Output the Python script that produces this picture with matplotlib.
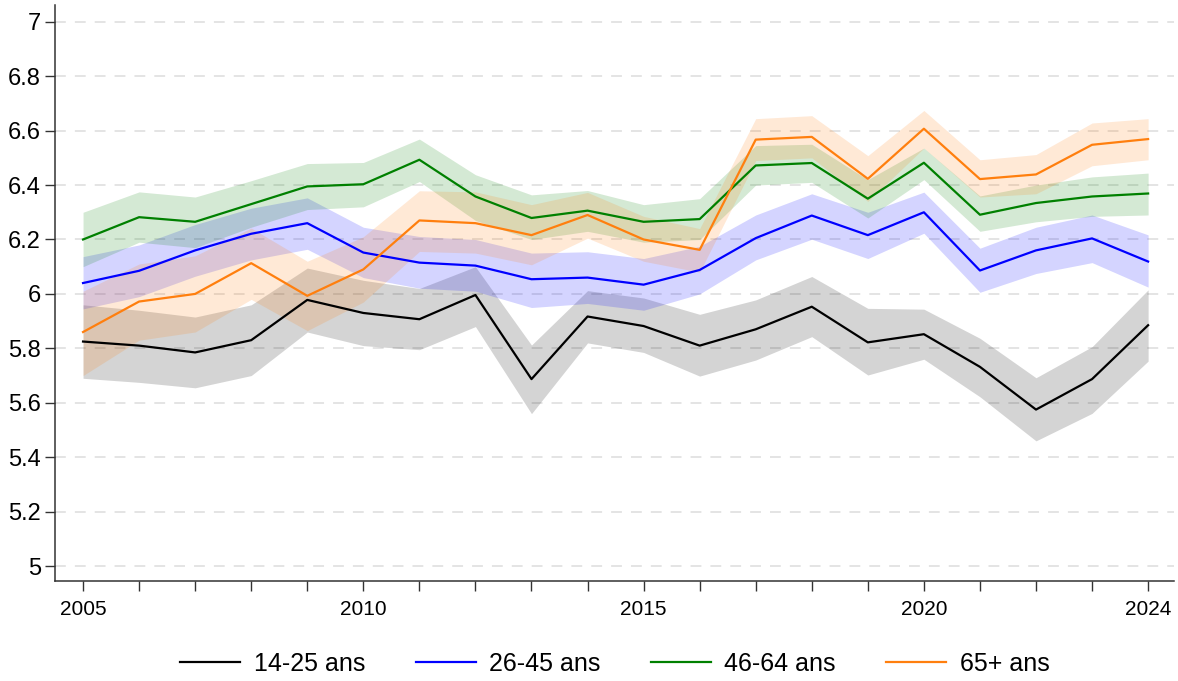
import numpy as np
import matplotlib
matplotlib.use("Agg")
import matplotlib.pyplot as plt

plt.rcParams.update({
    "font.family": ["Liberation Sans", "DejaVu Sans"],
})

# ---------------------------------------------------------------------------
# Data
# ---------------------------------------------------------------------------

years = list(range(2005, 2025))
labels = ["14-25 ans", "26-45 ans", "46-64 ans", "65+ ans"]

age_14_25 = [5.825, 5.810, 5.785, 5.830, 5.978, 5.930, 5.907, 5.996, 5.687, 5.917,
             5.882, 5.810, 5.870, 5.953, 5.822, 5.852, 5.732, 5.575, 5.687, 5.885]
age_14_25_lo = [5.690, 5.675, 5.655, 5.700, 5.860, 5.810, 5.795, 5.880, 5.560, 5.820,
                5.785, 5.698, 5.757, 5.843, 5.702, 5.760, 5.622, 5.460, 5.561, 5.753]
age_14_25_hi = [5.960, 5.940, 5.915, 5.960, 6.095, 6.050, 6.020, 6.100, 5.812, 6.012,
                5.985, 5.925, 5.978, 6.064, 5.947, 5.944, 5.837, 5.692, 5.806, 6.015]

age_26_45 = [6.040, 6.085, 6.160, 6.221, 6.260, 6.152, 6.115, 6.104, 6.054, 6.060,
             6.034, 6.088, 6.205, 6.288, 6.216, 6.300, 6.086, 6.160, 6.204, 6.119]
age_26_45_lo = [5.945, 5.990, 6.065, 6.125, 6.164, 6.060, 6.021, 6.010, 5.950, 5.965,
                5.940, 6.000, 6.125, 6.201, 6.130, 6.223, 6.006, 6.075, 6.115, 6.025]
age_26_45_hi = [6.137, 6.180, 6.255, 6.315, 6.353, 6.245, 6.211, 6.200, 6.150, 6.155,
                6.130, 6.175, 6.290, 6.368, 6.300, 6.374, 6.168, 6.245, 6.290, 6.217]

age_46_64 = [6.200, 6.282, 6.265, 6.330, 6.395, 6.403, 6.493, 6.358, 6.279, 6.306,
             6.265, 6.275, 6.472, 6.481, 6.350, 6.482, 6.291, 6.334, 6.358, 6.369]
age_46_64_lo = [6.100, 6.190, 6.170, 6.245, 6.310, 6.320, 6.413, 6.270, 6.200, 6.230,
                6.190, 6.200, 6.400, 6.410, 6.279, 6.420, 6.230, 6.265, 6.285, 6.290]
age_46_64_hi = [6.300, 6.375, 6.356, 6.416, 6.479, 6.483, 6.569, 6.438, 6.364, 6.380,
                6.328, 6.350, 6.545, 6.550, 6.420, 6.536, 6.360, 6.400, 6.430, 6.444]

age_65 = [5.860, 5.972, 6.000, 6.113, 5.993, 6.090, 6.270, 6.260, 6.216, 6.290,
          6.200, 6.162, 6.567, 6.577, 6.423, 6.607, 6.422, 6.439, 6.548, 6.569]
age_65_lo = [5.700, 5.830, 5.860, 5.980, 5.865, 5.970, 6.156, 6.150, 6.107, 6.205,
             6.120, 6.080, 6.490, 6.500, 6.340, 6.536, 6.356, 6.368, 6.471, 6.493]
age_65_hi = [6.010, 6.110, 6.140, 6.242, 6.120, 6.210, 6.379, 6.375, 6.328, 6.373,
             6.285, 6.240, 6.644, 6.655, 6.508, 6.674, 6.493, 6.512, 6.628, 6.644]

series = [
    (age_14_25, age_14_25_lo, age_14_25_hi, "black"),
    (age_26_45, age_26_45_lo, age_26_45_hi, "#0000ff"),
    (age_46_64, age_46_64_lo, age_46_64_hi, "#008000"),
    (age_65, age_65_lo, age_65_hi, "#ff7f0e"),
]

y_ticks = [5, 5.2, 5.4, 5.6, 5.8, 6, 6.2, 6.4, 6.6, 6.8, 7]
y_ticklabels = ["5", "5.2", "5.4", "5.6", "5.8", "6", "6.2", "6.4", "6.6", "6.8", "7"]
x_labelled = [2005, 2010, 2015, 2020, 2024]

# ---------------------------------------------------------------------------
# Plot
# ---------------------------------------------------------------------------

fig = plt.figure(figsize=(11.78, 6.81), dpi=100)
ax = fig.add_axes([0.0467, 0.1468, 0.9503, 0.846])

for vals, lo, hi, col in series:
    ax.fill_between(years, lo, hi, color=col, alpha=0.17, linewidth=0)
for (vals, lo, hi, col), lab in zip(series, labels):
    ax.plot(years, vals, color=col, linewidth=1.6, label=lab)

ax.set_xlim(2004.5, 2024.47)
ax.set_ylim(4.945, 7.062)

ax.set_yticks(y_ticks)
ax.set_yticklabels(y_ticklabels, fontsize=17)
ax.set_xticks(years)
ax.set_xticklabels([str(y) if y in x_labelled else "" for y in years], fontsize=15)
ax.tick_params(axis="both", direction="out", length=7, width=1, color="#333333")
ax.tick_params(axis="x", pad=7)
ax.tick_params(axis="y", pad=3)

ax.grid(axis="y", color="#e2e2e2", linestyle=(0, (6, 5)), linewidth=1.3)
ax.set_axisbelow(True)

for side in ("top", "right"):
    ax.spines[side].set_visible(False)
for side in ("left", "bottom"):
    ax.spines[side].set_color("#333333")
    ax.spines[side].set_linewidth(1.1)

leg = fig.legend(loc="lower center", bbox_to_anchor=(0.522, -0.025), ncol=4,
                 frameon=False, handlelength=2.4, handletextpad=0.55,
                 columnspacing=2.0, prop={"size": 18})

fig.savefig("out.png", dpi=100)
